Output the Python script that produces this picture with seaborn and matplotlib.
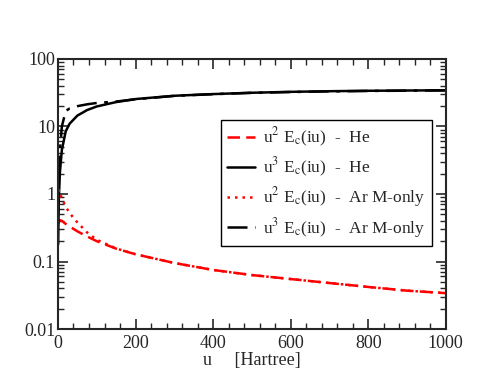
import matplotlib
matplotlib.use('Agg')
import matplotlib.pyplot as plt
import matplotlib.ticker as mticker
import seaborn as sns
import pandas as pd

# values
u = [0.5, 2, 5, 10, 20, 30, 50, 75, 100, 150, 200, 300, 400, 500, 600, 700, 800, 900, 1000]
he_u2 = [0.36, 0.40, 0.41, 0.40, 0.36, 0.33, 0.28, 0.235, 0.20, 0.155, 0.128, 0.095, 0.075, 0.063, 0.055, 0.048, 0.042, 0.037, 0.034]
he_u3 = [0.18, 0.8, 2.1, 4.5, 8.5, 11, 14.5, 17.5, 19.8, 23, 25.5, 28.5, 30.2, 31.6, 32.6, 33.3, 33.8, 34.1, 34.4]
ar_u2 = [0.5, 1.15, 1.05, 0.85, 0.65, 0.52, 0.38, 0.27, 0.21, 0.156, 0.128, 0.095, 0.075, 0.063, 0.055, 0.048, 0.042, 0.037, 0.034]
ar_u3 = [0.5, 2.3, 4.5, 10, 17, 18.5, 20, 21.3, 22.3, 23.4, 25.3, 28.4, 30.1, 31.5, 32.4, 33.1, 33.6, 33.9, 34.2]

labels = [r'u$^{2}$ E$_{\rm c}$(iu)  -  He',
          r'u$^{3}$ E$_{\rm c}$(iu)  -  He',
          r'u$^{2}$ E$_{\rm c}$(iu)  -  Ar M-only',
          r'u$^{3}$ E$_{\rm c}$(iu)  -  Ar M-only']
series = [he_u2, he_u3, ar_u2, ar_u3]
colors = ['red', 'black', 'red', 'black']
styles = [(0, (5, 2.5)), '-', (0, (1, 2)), (0, (8, 3, 1.5, 3))]

sns.set_style('ticks')
plt.rcParams['font.family'] = ['Liberation Serif', 'DejaVu Serif']
plt.rcParams['mathtext.fontset'] = 'stix'

fig = plt.figure(figsize=(5.02, 3.88), dpi=100)
ax = fig.add_axes([0.1155, 0.152, 0.7725, 0.696])

for vals, lab, c, ls in zip(series, labels, colors, styles):
    df = pd.DataFrame({'u': u, 'v': vals})
    sns.lineplot(data=df, x='u', y='v', color=c, linestyle=ls, linewidth=1.8,
                 label=lab, ax=ax, estimator=None, sort=False)

ax.set_yscale('log')
ax.set_xlim(0, 1000)
ax.set_ylim(0.01, 100)
ax.xaxis.set_major_locator(mticker.MultipleLocator(200))
ax.xaxis.set_minor_locator(mticker.MultipleLocator(40))
ax.yaxis.set_major_locator(mticker.FixedLocator([0.01, 0.1, 1, 10, 100]))
ax.yaxis.set_major_formatter(mticker.FixedFormatter(['0.01', '0.1', '1', '10', '100']))
ax.yaxis.set_minor_locator(mticker.LogLocator(base=10, subs=range(2, 10)))
ax.yaxis.set_minor_formatter(mticker.NullFormatter())
ax.tick_params(which='both', direction='in', top=True, right=True, labelsize=13)
ax.tick_params(axis='y', pad=2)
ax.tick_params(axis='x', pad=4)
ax.tick_params(which='major', length=7, width=1.2)
ax.tick_params(which='minor', length=4, width=1.0)
for s in ax.spines.values():
    s.set_linewidth(1.5)
ax.set_xlabel('u     [Hartree]', fontsize=13, labelpad=0)
ax.set_ylabel('')

leg = ax.legend(loc='upper left', bbox_to_anchor=(0.42, 0.774), borderaxespad=0,
                fontsize=12.5, frameon=True, fancybox=False, edgecolor='black',
                framealpha=1, handlelength=1.6, handletextpad=0.5, borderpad=0.35,
                labelspacing=0.37)
leg.get_frame().set_linewidth(1.0)

fig.savefig('out.png', dpi=100)
